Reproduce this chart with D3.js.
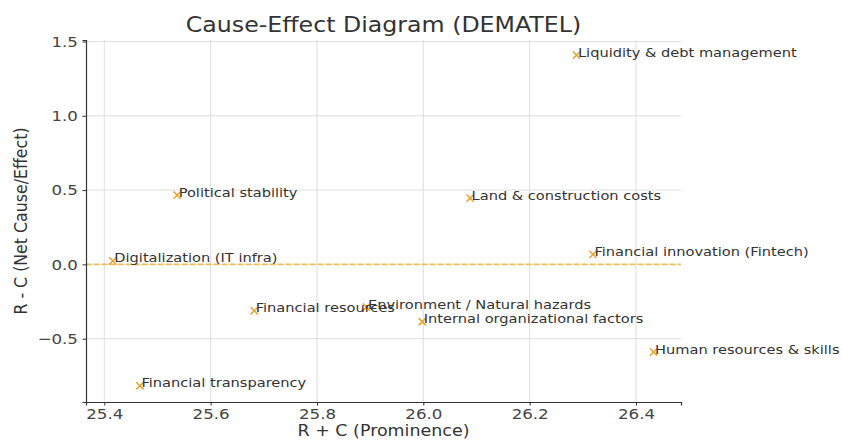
<!DOCTYPE html>
<html>
<head>
<meta charset="utf-8">
<script src="https://cdn.jsdelivr.net/npm/d3@7"></script>
<style>
    body { margin: 0; background: #fff; }
    text { font-family: "DejaVu Sans", sans-serif; }
</style>
</head>
<body>
<div id="chart"></div>
<script>
let factors = [
    'Liquidity & debt management',
    'Land & construction costs',
    'Political stability',
    'Digitalization (IT infra)',
    'Financial innovation (Fintech)',
    'Financial resources',
    'Environment / Natural hazards',
    'Internal organizational factors',
    'Human resources & skills',
    'Financial transparency'
];
let prominence = [26.288, 26.088, 25.537, 25.416, 26.319, 25.682, 25.893, 25.998, 26.433, 25.467];
let relation = [1.408, 0.446, 0.466, 0.024, 0.067, -0.312, -0.287, -0.386, -0.59, -0.817];

let xTicks = [25.4, 25.6, 25.8, 26.0, 26.2, 26.4];
let yTicks = [-0.5, 0.0, 0.5, 1.0, 1.5];

let width = 842, height = 441;
let plotLeft = 86, plotRight = 681, plotTop = 40, plotBottom = 402;
let SX = 1.15; // the picture is a bit wider than tall, text too

let points = factors.map((f, i) => ({name: f, x: prominence[i], y: relation[i]}));

let xScale = d3.scaleLinear().domain([25.3656, 26.4846]).range([plotLeft, plotRight]);
let yScale = d3.scaleLinear().domain([-0.926, 1.51]).range([plotBottom, plotTop]);

let svg = d3.select('#chart').append('svg')
    .attr('width', width)
    .attr('height', height);

// grid
svg.append('g')
    .selectAll('line')
    .data(xTicks)
    .enter()
    .append('line')
    .attr('x1', (d) => xScale(d))
    .attr('x2', (d) => xScale(d))
    .attr('y1', plotTop)
    .attr('y2', plotBottom)
    .attr('stroke', '#dedede')
    .attr('stroke-width', 1);

svg.append('g')
    .selectAll('line')
    .data(yTicks)
    .enter()
    .append('line')
    .attr('x1', plotLeft)
    .attr('x2', plotRight)
    .attr('y1', (d) => yScale(d))
    .attr('y2', (d) => yScale(d))
    .attr('stroke', '#dedede')
    .attr('stroke-width', 1);

// zero line
svg.append('line')
    .attr('x1', plotLeft)
    .attr('x2', plotRight)
    .attr('y1', yScale(0))
    .attr('y2', yScale(0))
    .attr('stroke', '#f0b84a')
    .attr('stroke-width', 1.8)
    .attr('stroke-dasharray', '5.5,2.5')
    .attr('opacity', 0.9);

// axes
let xAxis = svg.append('g')
    .attr('transform', 'translate(0,' + plotBottom + ')')
    .call(d3.axisBottom(xScale).tickValues(xTicks).tickFormat(d3.format('.1f')).tickSizeOuter(0).tickSize(3.5).tickPadding(3.5));

let yAxis = svg.append('g')
    .attr('transform', 'translate(' + plotLeft + ',0)')
    .call(d3.axisLeft(yScale).tickValues(yTicks).tickFormat((d) => d < 0 ? '\u2212' + d3.format('.1f')(-d) : d3.format('.1f')(d)).tickSizeOuter(0).tickSize(3.5).tickPadding(3.5));

[xAxis, yAxis].forEach((a) => {
    a.select('.domain').attr('stroke', '#333').attr('stroke-width', 1.2);
    a.selectAll('.tick line').attr('stroke', '#333');
    a.selectAll('.tick text')
        .attr('fill', '#444')
        .style('font-size', '14.5px')
        .attr('transform', 'scale(' + SX + ',1)');
});

// markers
let m = 3.6;
svg.append('g')
    .selectAll('path')
    .data(points)
    .enter()
    .append('path')
    .attr('d', (d) => {
        let cx = xScale(d.x), cy = yScale(d.y);
        return 'M' + (cx - m) + ',' + (cy - m) + 'L' + (cx + m) + ',' + (cy + m) +
            'M' + (cx - m) + ',' + (cy + m) + 'L' + (cx + m) + ',' + (cy - m);
    })
    .attr('stroke', '#e8a22c')
    .attr('stroke-width', 1.5)
    .attr('fill', 'none');

// labels (they overlap in the middle, as in the original)
svg.append('g')
    .selectAll('text')
    .data(points)
    .enter()
    .append('text')
    .attr('transform', (d) => 'translate(' + (xScale(d.x) + 1.5) + ',' + (yScale(d.y) + 1.5) + ') scale(' + SX + ',1)')
    .attr('fill', '#333')
    .style('font-size', '12.7px')
    .text((d) => d.name);

// title and axis labels
svg.append('text')
    .attr('transform', 'translate(' + (plotLeft + plotRight) / 2 + ',32) scale(' + SX + ',1)')
    .attr('text-anchor', 'middle')
    .attr('fill', '#333')
    .style('font-size', '20.6px')
    .text('Cause-Effect Diagram (DEMATEL)');

svg.append('text')
    .attr('transform', 'translate(' + (plotLeft + plotRight) / 2 + ',436) scale(' + SX + ',1)')
    .attr('text-anchor', 'middle')
    .attr('fill', '#333')
    .style('font-size', '15.2px')
    .text('R + C (Prominence)');

svg.append('text')
    .attr('transform', 'translate(27,' + (plotTop + plotBottom) / 2 + ') rotate(-90) scale(1,' + SX + ')')
    .attr('text-anchor', 'middle')
    .attr('fill', '#333')
    .style('font-size', '15.8px')
    .text('R - C (Net Cause/Effect)');
</script>
</body>
</html>
